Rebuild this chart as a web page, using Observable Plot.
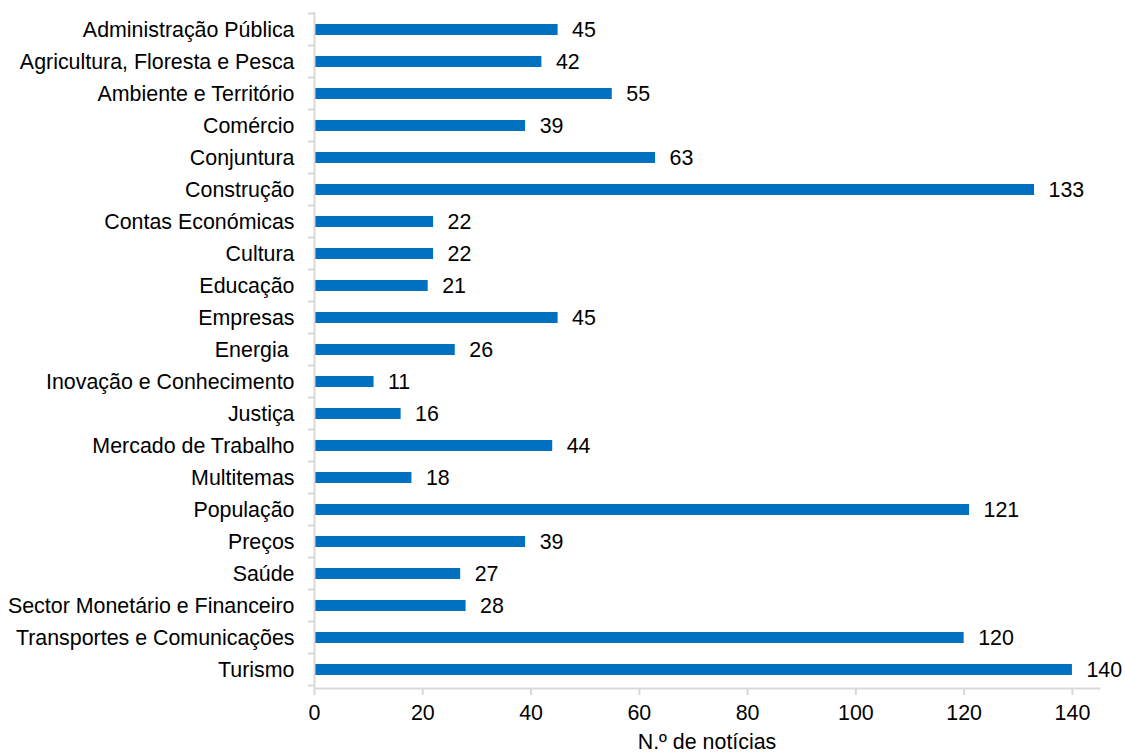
<!DOCTYPE html>
<html>
<head>
<meta charset="utf-8">
<script src="https://cdn.jsdelivr.net/npm/d3@7"></script>
<script src="https://cdn.jsdelivr.net/npm/@observablehq/plot@0.6"></script>
<style>
  html, body { margin: 0; padding: 0; background: #fff; }
  #chart { width: 1125px; height: 754px; }
</style>
</head>
<body>
<div id="chart"></div>
<script>
const categories = [
  "Administração Pública",
  "Agricultura, Floresta e Pesca",
  "Ambiente e Território",
  "Comércio",
  "Conjuntura",
  "Construção",
  "Contas Económicas",
  "Cultura",
  "Educação",
  "Empresas",
  "Energia\u00a0",
  "Inovação e Conhecimento",
  "Justiça",
  "Mercado de Trabalho",
  "Multitemas",
  "População",
  "Preços",
  "Saúde",
  "Sector Monetário e Financeiro",
  "Transportes e Comunicações",
  "Turismo"
];
const values = [45, 42, 55, 39, 63, 133, 22, 22, 21, 45, 26, 11, 16, 44, 18, 121, 39, 27, 28, 120, 140];
const xTicks = [0, 20, 40, 60, 80, 100, 120, 140];
const xLabel = "N.º de notícias";

const data = categories.map((c, i) => ({category: c, value: values[i]}));
const axisColor = "#d9d9d9";
const barColor = "#0070C0";
const fs = 21.4;

// category boundary ticks on the y axis (Excel style)
function boundaryTicks(index, scales, values, dims) {
  const g = d3.create("svg:g");
  const y = scales.y;
  const step = y.step();
  const x0 = dims.marginLeft;
  const bounds = categories.map(c => y(c) + y.bandwidth() / 2 - step / 2);
  bounds.push(y(categories[categories.length - 1]) + y.bandwidth() / 2 + step / 2);
  for (const b of bounds) {
    g.append("line")
      .attr("x1", x0 - 6).attr("x2", x0)
      .attr("y1", b).attr("y2", b)
      .attr("stroke", axisColor).attr("stroke-width", 2);
  }
  return g.node();
}

const chart = Plot.plot({
  width: 1125,
  height: 754,
  marginLeft: 314,
  marginRight: 26,
  marginTop: 12,
  marginBottom: 66,
  style: {fontFamily: "'Liberation Sans', Arial, sans-serif", fontSize: fs + "px", color: "#000", background: "#fff"},
  x: {domain: [0, 145], ticks: xTicks},
  y: {domain: categories, paddingInner: 0.65, paddingOuter: 0.325, align: 0.5},
  marks: [
    Plot.barX(data, {x: "value", y: "category", fill: barColor}),
    Plot.text(data, {x: "value", y: "category", text: d => String(d.value), textAnchor: "start", dx: 14, fill: "#000", fontSize: fs}),
    Plot.ruleX([0], {stroke: axisColor, strokeWidth: 2}),
    boundaryTicks,
    Plot.axisY({tickSize: 0, tickPadding: 20, label: null, fontSize: fs}),
    Plot.axisX({ticks: xTicks, tickSize: 7, tickPadding: 9, stroke: axisColor, strokeWidth: 2, fill: "#000", fontSize: fs, label: xLabel, labelAnchor: "center", labelArrow: "none", labelOffset: 60, tickFormat: d => String(d)}),
    Plot.frame({anchor: "bottom", stroke: axisColor, strokeWidth: 2})
  ]
});
document.getElementById("chart").appendChild(chart);
</script>
</body>
</html>
